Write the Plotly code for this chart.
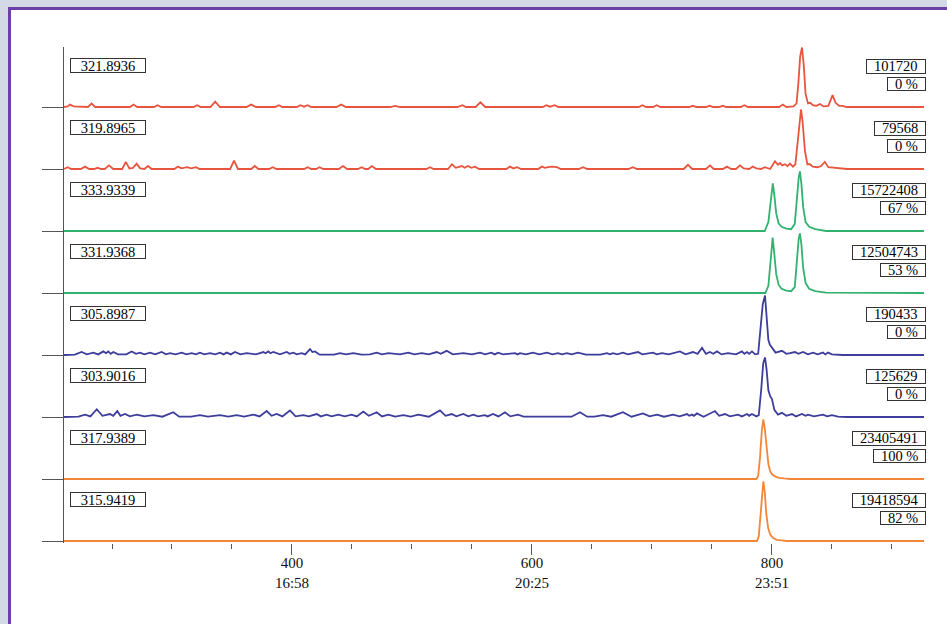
import plotly.graph_objects as go
from plotly.subplots import make_subplots

# ---------------- data ----------------
masses = ["321.8936", "319.8965", "333.9339", "331.9368",
          "305.8987", "303.9016", "317.9389", "315.9419"]
intensities = ["101720", "79568", "15722408", "12504743",
               "190433", "125629", "23405491", "19418594"]
percents = ["0 %", "0 %", "67 %", "53 %", "0 %", "0 %", "100 %", "82 %"]

x_range = [210, 926.7]
x_major = [400, 600, 800]
x_major_text = ["400<br>16:58", "600<br>20:25", "800<br>23:51"]
x_minor = [250, 300, 350, 450, 500, 550, 650, 700, 750, 850, 900]

# each trace: (scan, relative intensity) vertices
t1 = [(210,0),(213,0.01),(215,0.04),(218,0.01),(230,0),(233,0.06),(236,0),(265,0),(268,0.04),(271,0),
      (285,0),(288,0.03),(291,0),(318,0),(321,0.03),(324,0),(332,0),(336,0.09),(340,0),(362,0),(366,0.04),
      (370,0),(386,0),(389,0.03),(392,0),(404,0),(407,0.03),(410,0.005),(413,0.03),(416,0),(437,0),
      (441,0.04),(445,0),(482,0),(486,0.02),(490,0),(538,0),(542,0.03),(545,0),(553,0),(557,0.08),(561,0),
      (609,0),(612,0.03),(615,0.005),(619,0.03),(622,0),(689,0),(692,0.03),(695,0),(701,0),(704,0.03),
      (707,0),(731,0),(734,0.02),(737,0),(745,0),(748,0.02),(751,0),(756,0),(759,0.02),(762,0),(774,0),
      (777,0.03),(780,0),(806,0),(809,0.04),(812,0),(818,0.01),(820.5,0.06),(822,0.4),(823.5,0.85),
      (825,1.0),(826.5,0.7),(828,0.22),(830,0.06),(832,0.07),(834,0.03),(837,0.02),(840,0.05),(843,0.01),
      (847,0.02),(850.5,0.2),(853,0.07),(856,0.02),(859,0.02),(862,0),(926.7,0)]

t2 = [(210,0),(213,0.03),(216,0),(224,0),(227.5,0.04),(231,0),(235,0),(238,0.02),(241,0),(244,0),
      (247.5,0.06),(251,0),(258.5,0),(261.5,0.12),(264.5,0.01),(267.5,0.02),(270.5,0.09),(273.5,0.01),
      (277,0),(280,0.05),(283,0),(302,0),(305,0.04),(308,0.01),(312.5,0.03),(316,0.01),(320,0.03),(323,0),
      (348.5,0),(351.7,0.14),(355,0),(366,0),(369,0.05),(372,0),(381,0),(384,0.03),(387,0),(410,0),
      (413,0.03),(416,0),(420,0),(423,0.03),(426,0),(439,0),(442.5,0.05),(446,0),(455,0),(458,0.03),
      (461,0),(463.5,0),(466.5,0.05),(470,0),(512,0),(515,0.03),(518,0),(530,0),(533.3,0.08),(536.5,0.02),
      (541.5,0.05),(544,0.02),(546.5,0.05),(549.5,0.02),(552.5,0.04),(556,0),(578.5,0),(581.7,0.04),
      (584.5,0.01),(587.5,0.03),(591,0),(605,0),(608.3,0.04),(610.8,0.02),(613.5,0.03),(616.7,0.04),
      (620.8,0.03),(624,0),(639,0),(642.5,0.03),(646,0),(680.5,0),(684,0.03),(687.5,0),(726.5,0),
      (730,0.07),(733.5,0),(745,0),(748.3,0.06),(751.5,0),(759,0),(762.5,0.04),(766,0),(770,0),
      (773.3,0.06),(776.5,0.01),(781,0),(784,0.04),(787,0.01),(791,0),(794,0.03),(798.5,0),(802.5,0.13),
      (805,0.07),(806.7,0.1),(808.5,0.06),(810.8,0.08),(813,0.05),(815,0.09),(817.5,0.04),(819.5,0.08),
      (821.5,0.5),(823,0.85),(824.2,1.0),(825.5,0.8),(827.5,0.3),(829.5,0.08),(831.7,0.08),(834,0.04),
      (838,0.03),(841,0.05),(844,0.12),(847,0.03),(851,0.02),(856,0.02),(862.5,0),(926.7,0)]

t3 = [(210,0),(794,0),(797,0.15),(799,0.55),(800.7,0.8),(802,0.6),(803.5,0.3),(805.5,0.13),(808,0.07),
      (812,0.04),(816,0.03),(819,0.12),(821,0.6),(822.3,0.9),(823.3,1.0),(824.5,0.8),(826,0.4),
      (828,0.15),(831,0.07),(836,0.03),(845,0),(926.7,0)]

t4 = [(210,0),(794.5,0),(797,0.12),(799,0.6),(800.6,0.93),(802,0.65),(803.5,0.32),(805.5,0.14),
      (808,0.07),(812,0.04),(816,0.03),(819,0.1),(821,0.6),(822.3,0.92),(823.3,1.0),(824.5,0.82),
      (826,0.42),(828,0.17),(831,0.07),(836,0.03),(845,0.005),(926.7,0)]

t5 = [(210,0),(219,0.005),(224.7,0.05),(229,0.01),(234.4,0.04),(238.5,0.01),(242.8,0.06),(245,0.03),
      (246.9,0.06),(249,0.02),(251.1,0.05),(255,0.01),(262,0.01),(266.4,0.06),(270,0.02),(273.3,0.04),
      (277,0.01),(281.7,0.04),(286,0.01),(291.4,0.05),(295,0.01),(298.3,0.03),(303,0.01),(308.1,0.04),
      (312,0.01),(316.4,0.03),(320,0.01),(323.3,0.04),(327,0.01),(331.7,0.03),(336,0.01),(340,0.04),
      (343,0.01),(345.6,0.04),(349,0.01),(352.5,0.05),(357,0.01),(362.2,0.03),(370,0.01),(376.1,0.05),
      (378,0.03),(380.3,0.06),(382,0.03),(384.4,0.05),(390,0.01),(395.6,0.05),(398,0.02),(401.1,0.04),
      (404,0.01),(408.1,0.03),(411,0.01),(415,0.1),(417,0.05),(419.2,0.06),(423,0.005),(435,0.005),
      (440,0.03),(445,0.01),(451.1,0.03),(458,0.005),(465,0.01),(470.6,0.04),(475,0.01),(480.3,0.03),
      (490,0.01),(496.9,0.04),(502,0.01),(508.1,0.03),(514,0.01),(520.6,0.05),(524,0.02),(528.9,0.07),
      (534,0.01),(542.8,0.03),(550,0.01),(556.7,0.04),(561,0.01),(566,0.04),(569,0.01),(571.7,0.04),
      (576,0.01),(585.8,0.03),(588,0.01),(590,0.03),(595,0.01),(600.8,0.04),(606,0.01),(612.5,0.04),
      (617,0.01),(621.7,0.03),(625,0.01),(629.2,0.03),(633,0.01),(638.3,0.04),(645,0.005),(657,0.005),
      (662.5,0.03),(665,0.01),(667.5,0.03),(671,0.01),(675.8,0.04),(680,0.01),(688.3,0.05),(692,0.01),
      (700.8,0.04),(704,0.01),(708.3,0.03),(714,0.01),(723.3,0.06),(728,0.01),(734.2,0.05),(738,0.02),
      (741.7,0.12),(745,0.02),(748.3,0.05),(751,0.02),(754.2,0.06),(758,0.01),(763.3,0.03),(770,0.01),
      (775,0.06),(777,0.02),(779.2,0.05),(781,0.02),(783.3,0.06),(786,0.01),(788.5,0.02),(790.5,0.4),
      (792.3,0.85),(794.2,1.0),(795.5,0.7),(797,0.25),(798.3,0.17),(800,0.12),(803,0.04),(808.3,0.07),
      (812,0.02),(815,0.03),(819.2,0.05),(822,0.02),(825.8,0.05),(830,0.01),(834.2,0.04),(838,0.01),
      (842.5,0.04),(844.5,0.01),(846.7,0.04),(850,0.01),(859,0),(926.7,0)]

t6 = [(210,0),(222,0.005),(227.5,0.04),(232,0.01),(237.3,0.13),(242,0.02),(248.3,0.05),(251,0.02),
      (254.4,0.1),(257,0.02),(260.8,0.05),(265,0.01),(270.6,0.04),(277,0.01),(284.4,0.03),(292,0.005),
      (301.1,0.08),(306,0.005),(316,0.005),(323.3,0.03),(330,0.005),(340,0.03),(347,0.005),(353.9,0.03),
      (360,0.005),(367.8,0.04),(373,0.01),(378.9,0.1),(383,0.02),(387.2,0.05),(392,0.01),(398.3,0.11),
      (403,0.01),(409.4,0.03),(414,0.01),(420.6,0.05),(424,0.01),(428.9,0.04),(433,0.01),(438.6,0.04),
      (444,0.01),(449.7,0.04),(454,0.01),(459.4,0.09),(464,0.02),(470.6,0.08),(475,0.01),(480.3,0.04),
      (486,0.005),(492.8,0.03),(499,0.005),(505.3,0.04),(514,0.005),(523.3,0.11),(528,0.02),(533.1,0.05),
      (537,0.01),(542.8,0.05),(547,0.01),(551.1,0.04),(555,0.01),(560.8,0.03),(563,0.01),(567.5,0.05),
      (572,0.01),(577.5,0.08),(582,0.01),(588.3,0.04),(593,0.005),(633,0.005),(640,0.08),(646,0.005),
      (652,0.005),(659.2,0.03),(666,0.005),(675.8,0.08),(683,0.005),(692.5,0.06),(698,0.01),(704.2,0.04),
      (710,0.005),(717.5,0.04),(723,0.01),(729.2,0.05),(731,0.02),(733.3,0.04),(735,0.02),(737.5,0.06),
      (743,0.005),(752.5,0.1),(756,0.02),(760.8,0.05),(765,0.01),(771.7,0.04),(775,0.01),(779.2,0.05),
      (781,0.02),(783.3,0.05),(787,0.01),(789,0.03),(791,0.45),(792.7,0.9),(794.2,1.0),(795.5,0.8),
      (797,0.45),(798.5,0.35),(800,0.3),(802,0.12),(805,0.04),(808.3,0.07),(812,0.02),(816.7,0.05),
      (820,0.01),(825,0.05),(828,0.02),(830,0.04),(835,0.01),(842.5,0.04),(846,0.01),(850,0.03),
      (855,0.005),(862.5,0),(926.7,0)]

t7 = [(210,0),(787,0),(788.5,0.05),(790,0.35),(791.5,0.8),(792.8,1.0),(794,0.85),(795.5,0.5),
      (797,0.25),(798.5,0.13),(800.5,0.07),(803,0.04),(806,0.02),(810,0.01),(815,0),(926.7,0)]

t8 = [(210,0),(787.5,0),(789,0.08),(790.3,0.4),(791.6,0.82),(792.8,1.0),(794,0.82),(795.3,0.45),
      (796.8,0.22),(798.5,0.11),(801,0.05),(804,0.02),(808,0.01),(812,0),(926.7,0)]

traces = [t1, t2, t3, t4, t5, t6, t7, t8]
colors = ["#e8553f", "#e8553f", "#33b26f", "#33b26f",
          "#3d3d9c", "#3d3d9c", "#f2873a", "#f2873a"]

# ---------------- figure ----------------
N = len(traces)
W, H = 947, 624
ML, MR, MT, MB = 64, 23, 47, 81
PW = W - ML - MR
PH = H - MT - MB
panel_h = PH / N
SERIF = "Liberation Serif, Times New Roman, serif"

fig = make_subplots(rows=N, cols=1, shared_xaxes=True, vertical_spacing=0)
for i, tr in enumerate(traces):
    xs = [p[0] for p in tr]
    ys = [p[1] for p in tr]
    fig.add_trace(go.Scatter(x=xs, y=ys, mode="lines",
                             line=dict(color=colors[i], width=1.8),
                             hoverinfo="skip", showlegend=False),
                  row=i + 1, col=1)

fig.update_yaxes(range=[-0.0336, 1.008], showgrid=False, zeroline=False,
                 showline=True, linecolor="#555", linewidth=1,
                 tickmode="array", tickvals=[0], ticks="outside", ticklen=21,
                 tickcolor="#555", tickwidth=1, showticklabels=False)
fig.update_xaxes(range=x_range, showgrid=False, zeroline=False, showline=False,
                 ticks="", showticklabels=False)
fig.update_xaxes(row=N, col=1, tickmode="array", tickvals=x_major,
                 ticktext=x_major_text, ticks="outside", ticklen=11,
                 tickcolor="#555", tickwidth=1, showticklabels=True,
                 ticklabelstandoff=-5,
                 tickfont=dict(family=SERIF, size=15, color="#111"),
                 minor=dict(tickmode="array", tickvals=x_minor, ticks="outside",
                            ticklen=5, tickcolor="#555", tickwidth=1))


def text_w(s, size):
    w = 0.0
    for c in s:
        if c.isdigit():
            w += 0.5
        elif c == "%":
            w += 0.833
        else:
            w += 0.25
    return w * size


def px_x(p):
    return (p - ML) / PW


def px_y(p):
    return (H - MB - p) / PH


FS = 14.5
annots = []
for i in range(N):
    yref = "y domain" if i == 0 else f"y{i + 1} domain"
    font = dict(family=SERIF, size=FS, color="#000")
    annots.append(dict(xref="paper", yref=yref, x=px_x(69.5), y=1 - 11 / panel_h,
                       xanchor="left", yanchor="top", text=masses[i], showarrow=False,
                       font=font, bordercolor="#333", borderwidth=1, borderpad=1,
                       width=72, height=11, align="center", valign="middle"))
    annots.append(dict(xref="paper", yref=yref, x=px_x(925.5), y=1 - 11.5 / panel_h,
                       xanchor="right", yanchor="top", text=intensities[i], showarrow=False,
                       font=font, bordercolor="#333", borderwidth=1, borderpad=1,
                       width=text_w(intensities[i], FS) + 12, height=10.5,
                       align="center", valign="middle"))
    annots.append(dict(xref="paper", yref=yref, x=px_x(925.5), y=1 - 30 / panel_h,
                       xanchor="right", yanchor="top", text=percents[i], showarrow=False,
                       font=font, bordercolor="#333", borderwidth=1, borderpad=1,
                       width=text_w(percents[i], FS) + 12, height=10,
                       align="center", valign="middle"))

# outer frame (white sheet with purple border on light background)
shapes = [dict(type="rect", xref="paper", yref="paper",
               x0=px_x(9.5), x1=px_x(990), y0=px_y(700), y1=px_y(8.5),
               line=dict(color="#6c40a6", width=3), fillcolor="white", layer="below")]

fig.update_layout(width=W, height=H, margin=dict(l=ML, r=MR, t=MT, b=MB),
                  paper_bgcolor="#d4dae5", plot_bgcolor="rgba(0,0,0,0)",
                  annotations=annots, shapes=shapes, showlegend=False,
                  font=dict(family=SERIF))

fig.write_html("out.html")
